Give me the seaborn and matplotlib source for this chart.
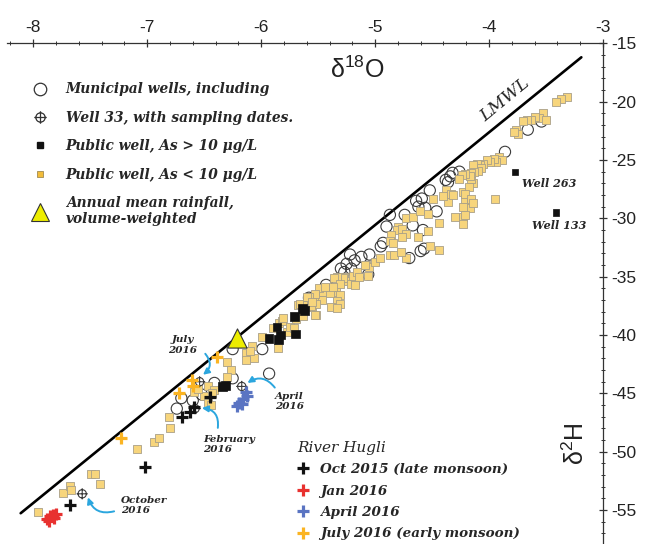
import numpy as np
import pandas as pd
import seaborn as sns
import matplotlib.pyplot as plt
from matplotlib.lines import Line2D
from matplotlib.path import Path
from matplotlib.ticker import MultipleLocator

sns.set_style('white')
plt.rcParams['font.family'] = ['Liberation Sans', 'DejaVu Sans']
plt.rcParams['axes.unicode_minus'] = False

# Municipal wells (open circles)
muni_x = [-6.70, -6.74, -6.52, -6.41, -6.25, -6.25, -5.99, -5.93, -6.60,
          -5.58, -5.43, -5.27, -5.18, -5.05, -5.06, -5.22, -5.12, -5.25, -5.30, -5.21, -5.33,
          -4.93, -4.95, -4.90, -4.87, -4.74, -4.67, -4.58, -4.57, -4.60, -4.70,
          -4.52, -4.59, -4.62, -4.56, -4.46, -4.64,
          -4.38, -4.32, -4.34, -4.26, -4.36,
          -3.86, -3.66, -3.54]
muni_y = [-45.4, -46.3, -45.1, -44.1, -43.7, -41.2, -41.2, -43.3, -45.6,
          -36.8, -35.7, -34.6, -33.6, -33.1, -34.8, -33.1, -33.3, -33.9, -34.3, -34.3, -35.3,
          -32.1, -32.4, -30.7, -29.7, -29.7, -30.6, -31.0, -32.6, -32.8, -33.4,
          -27.6, -28.3, -29.0, -29.1, -29.4, -28.5,
          -26.7, -26.1, -26.4, -26.0, -26.9,
          -24.3, -22.4, -21.7]

# Well 33 with sampling dates (Oct 2016, Jul 2016, Feb 2016, Apr 2016)
w33_x = [-7.57, -6.54, -6.58, -6.17]
w33_y = [-53.6, -44.0, -46.3, -44.4]

# Public wells, As > 10 ug/L
hi_x = [-6.34, -6.31, -5.93, -5.85, -5.83, -5.86, -5.70, -5.71, -5.64, -5.62, -3.77, -3.41]
hi_y = [-44.4, -44.3, -40.3, -40.4, -40.0, -39.3, -39.9, -38.4, -37.7, -37.9, -26.0, -29.5]
hi_size = [40, 40, 40, 40, 40, 40, 40, 40, 40, 40, 20, 20]

# Public wells, As < 10 ug/L
lo_x = [-7.96, -7.74, -7.68, -7.67, -7.49, -7.46, -7.41, -7.09, -6.94, -6.90, -6.81, -6.80,
        -6.59, -6.47, -6.41, -6.30, -6.26, -6.30, -6.43, -6.50, -6.55, -6.47, -6.44,
        -6.08, -6.13, -6.13, -6.06, -6.10, -5.99,
        -5.90, -5.84, -5.82, -5.77, -5.75, -5.81, -5.85, -5.71, -5.69, -5.63, -5.68, -5.66,
        -5.60, -5.52, -5.55, -5.59, -5.49, -5.46, -5.47, -5.49, -5.38, -5.36, -5.34, -5.31,
        -5.33, -5.40, -5.28, -5.27, -5.24, -5.21, -5.18, -5.19, -5.16, -5.14, -5.08, -5.05,
        -5.00, -5.28, -5.33, -5.36, -5.18, -5.31, -5.37, -5.44, -5.31, -5.39, -5.33, -5.53,
        -5.58, -5.52, -5.56, -5.53, -5.60, -5.55,
        -5.09, -5.06, -4.96, -4.87, -4.83, -4.73, -4.77, -4.73, -4.67, -4.61, -4.54, -4.80,
        -4.81, -4.76, -4.73, -4.76, -4.86, -4.87, -4.84, -4.62, -4.54, -4.52, -4.44,
        -4.38, -4.33, -4.36, -4.32, -4.23, -4.21, -4.16, -4.17, -4.30, -4.23, -4.23, -4.44,
        -4.49, -4.40, -3.95,
        -4.14, -4.16, -4.18, -4.21, -4.16, -4.14, -4.23, -4.21,
        -3.91, -3.89, -3.94, -3.96, -3.99, -4.02, -4.05, -4.08, -4.11, -4.07, -4.10, -4.14,
        -4.13, -4.16, -4.17, -4.21, -4.24, -4.26,
        -3.76, -3.75, -3.78, -3.53, -3.56, -3.60, -3.50, -3.63, -3.67, -3.70, -3.32, -3.37, -3.41]
lo_y = [-55.2, -53.5, -52.9, -53.3, -51.9, -51.9, -52.8, -49.8, -49.2, -48.8, -47.0, -48.0,
        -44.9, -44.4, -44.7, -42.3, -43.0, -43.6, -45.0, -45.2, -44.6, -45.8, -46.0,
        -40.9, -41.5, -42.1, -42.0, -41.4, -40.2,
        -39.4, -39.0, -38.8, -39.7, -39.3, -38.5, -41.1, -39.4, -38.6, -38.4, -37.4, -37.3,
        -37.4, -38.3, -37.6, -36.7, -36.7, -36.3, -37.0, -36.0, -36.0, -36.3, -35.9, -36.6,
        -37.1, -36.4, -35.3, -35.0, -35.4, -35.6, -35.3, -34.9, -34.6, -35.0, -34.0, -34.2,
        -33.7, -35.1, -35.0, -35.1, -35.7, -35.6, -35.9, -35.9, -37.3, -37.6, -37.7, -36.5,
        -36.7, -37.3, -37.5, -38.3, -36.7, -37.2,
        -34.0, -34.9, -33.4, -33.1, -33.1, -33.4, -32.9, -30.0, -29.9, -29.4, -29.6, -30.7,
        -31.0, -30.9, -31.3, -31.6, -31.4, -31.9, -32.1, -31.6, -31.1, -32.4, -32.7,
        -27.6, -27.9, -28.6, -28.0, -27.7, -28.3, -28.6, -29.1, -29.9, -29.9, -30.5, -30.4,
        -28.3, -28.1, -28.3,
        -27.0, -26.6, -27.3, -27.9, -28.3, -28.7, -29.0, -29.7,
        -24.7, -25.0, -25.2, -24.9, -25.2, -25.0, -25.3, -25.4, -25.3, -25.7, -25.9, -25.4,
        -26.0, -26.1, -26.4, -26.2, -26.3, -26.6,
        -22.4, -22.8, -22.6, -21.0, -21.4, -21.3, -21.6, -21.6, -21.6, -21.7, -19.6, -19.8, -20.0]

# Annual mean rainfall, volume-weighted
rain_x = [-6.21]
rain_y = [-40.25]

# River Hugli samples
oct15_x = [-7.68, -7.02, -6.69, -6.62, -6.585, -6.445]
oct15_y = [-54.6, -51.3, -47.0, -46.6, -46.2, -45.3]
jan16_x = [-7.88, -7.85, -7.82, -7.80, -7.86, -7.83]
jan16_y = [-55.8, -55.5, -55.7, -55.3, -55.9, -55.4]
apr16_x = [-6.13, -6.12, -6.16, -6.17, -6.21, -6.19]
apr16_y = [-44.9, -45.2, -45.5, -45.9, -46.1, -45.8]
jul16_x = [-7.23, -6.72, -6.61, -6.60, -6.39]
jul16_y = [-48.8, -45.0, -43.85, -44.4, -41.9]

# local meteoric water line
lmwl_slope, lmwl_int = 7.94, 9.13
lmwl_x = [-8.11, -3.19]

yellow = '#f7d57c'
yellow_edge = '#a9a088'
arrow_c = '#2ba6de'
river_cols = ['#111111', '#e8312f', '#5a74c2', '#fbb422']
serif_bi = dict(family='DejaVu Serif', style='italic', weight='bold')

# circle with cross marker for well 33
circ = Path.unit_circle()
cross_path = Path.make_compound_path(
    circ,
    Path([[-1.35, 0], [1.35, 0]], [Path.MOVETO, Path.LINETO]),
    Path([[0, -1.35], [0, 1.35]], [Path.MOVETO, Path.LINETO]))

fig = plt.figure(figsize=(6.5, 5.44), dpi=100)
ax = fig.add_axes([7 / 650, 0, 596 / 650, 500.7 / 544])

lx = np.array(lmwl_x)
ax.plot(lx, lmwl_slope * lx + lmwl_int, color='black', lw=1.9, zorder=1)

sns.scatterplot(x=muni_x, y=muni_y, ax=ax, marker='o', s=65, facecolor='none',
                edgecolor='#3a3a3a', linewidth=0.8, zorder=2)
sns.scatterplot(x=lo_x, y=lo_y, ax=ax, marker='s', s=32, color=yellow,
                edgecolor=yellow_edge, linewidth=0.6, zorder=3)
sns.scatterplot(x=hi_x, y=hi_y, ax=ax, marker='s', size=hi_size, sizes=(20, 40),
                color='#111111', edgecolor='#111111', linewidth=0.5, zorder=4, legend=False)
sns.scatterplot(x=w33_x, y=w33_y, ax=ax, marker=cross_path, s=65, facecolor='none',
                edgecolor='#3a3a3a', linewidth=0.8, zorder=5)
for (xs, ys), c in zip([(oct15_x, oct15_y), (jan16_x, jan16_y), (apr16_x, apr16_y),
                        (jul16_x, jul16_y)], river_cols):
    sns.scatterplot(x=xs, y=ys, ax=ax, marker='+', s=70, color=c, linewidth=2.3, zorder=6)
sns.scatterplot(x=rain_x, y=rain_y, ax=ax, marker='^', s=190, color='#eded00',
                edgecolor='#333333', linewidth=0.8, zorder=7)

ax.set_xlim(-8.23, -3.0)
ax.set_ylim(-57.9, -15)
for s in ['left', 'bottom']:
    ax.spines[s].set_visible(False)
for s in ['top', 'right']:
    ax.spines[s].set_color('#333333')
    ax.spines[s].set_linewidth(0.9)
ax.xaxis.tick_top()
ax.yaxis.tick_right()
ax.xaxis.set_major_locator(MultipleLocator(1))
ax.xaxis.set_minor_locator(MultipleLocator(0.2))
ax.yaxis.set_major_locator(MultipleLocator(5))
ax.yaxis.set_minor_locator(MultipleLocator(1))
ax.tick_params(which='major', direction='inout', length=6, width=0.9, color='#333333',
               labelsize=12.5, labelcolor='#222222')
ax.tick_params(which='minor', direction='inout', length=3, width=0.7, color='#333333')
ax.tick_params(axis='x', pad=3)
ax.tick_params(axis='y', pad=3)

ax.text(0.587, 0.947, 'δ$^{\\mathregular{18}}$O', transform=ax.transAxes, fontsize=18,
        ha='center', va='center', color='#222222')
ax.text(0.955, 0.2, 'δ$^{\\mathregular{2}}$H', transform=ax.transAxes, fontsize=18,
        ha='center', va='center', rotation=90, color='#222222')
ax.text(-3.86, -19.86, 'LMWL', fontsize=12.5, family='DejaVu Serif', style='italic',
        rotation=39.5, ha='center', va='center', rotation_mode='anchor')

# point annotations
ax.text(-3.71, -27.0, 'Well 263', fontsize=8, va='center', **serif_bi)
ax.text(-3.62, -30.6, 'Well 133', fontsize=8, va='center', **serif_bi)
ax.text(-6.69, -40.85, 'July\n2016', fontsize=7.5, ha='center', va='center',
        linespacing=1.15, **serif_bi)
ax.text(-5.88, -45.7, 'April\n2016', fontsize=7.5, ha='left', va='center',
        linespacing=1.15, **serif_bi)
ax.text(-6.51, -49.4, 'February\n2016', fontsize=7.5, ha='left', va='center',
        linespacing=1.15, **serif_bi)
ax.text(-7.23, -54.6, 'October\n2016', fontsize=7.5, ha='left', va='center',
        linespacing=1.15, **serif_bi)
arrows = [((-6.49, -41.6), (-6.51, -43.4), -0.5),
          ((-5.88, -44.5), (-6.12, -44.1), 0.45),
          ((-6.38, -47.95), (-6.52, -46.25), 0.5),
          ((-7.29, -55.1), (-7.52, -53.9), -0.45)]
for tail, head, rad in arrows:
    ax.annotate('', xy=head, xytext=tail,
                arrowprops=dict(arrowstyle='-|>', color=arrow_c, lw=1.4, shrinkA=0,
                                shrinkB=0, mutation_scale=9,
                                connectionstyle=f'arc3,rad={rad}'))

# legends
h1 = [Line2D([], [], ls='', marker='o', ms=9, mfc='none', mec='#333333', mew=0.9),
      Line2D([], [], ls='', marker=cross_path, ms=9, mfc='none', mec='#333333', mew=0.9),
      Line2D([], [], ls='', marker='s', ms=5, mfc='#111111', mec='#111111'),
      Line2D([], [], ls='', marker='s', ms=5, mfc='#f2bc3a', mec='#a08a50', mew=0.6),
      Line2D([], [], ls='', marker='^', ms=13, mfc='#eded00', mec='#333333', mew=0.8)]
l1 = ['Municipal wells, including', 'Well 33, with sampling dates.',
      'Public well, As > 10 μg/L', 'Public well, As < 10 μg/L',
      'Annual mean rainfall,\nvolume-weighted']
leg1 = ax.legend(h1, l1, loc='upper left', bbox_to_anchor=(0.042, 0.922), frameon=False,
                 prop=dict(size=9.9, **serif_bi), handlelength=1.2, handletextpad=1.25,
                 labelspacing=1.05, borderaxespad=0, borderpad=0)
ax.add_artist(leg1)

h2 = [Line2D([], [], ls='', marker='+', ms=8, mec=c, mew=2.3) for c in river_cols]
l2 = ['Oct 2015 (late monsoon)', 'Jan 2016', 'April 2016', 'July 2016 (early monsoon)']
leg2 = ax.legend(h2, l2, loc='upper left', bbox_to_anchor=(0.487, 0.206), frameon=False,
                 prop=dict(size=9.7, **serif_bi), handlelength=0.9, handletextpad=0.8,
                 labelspacing=0.62, borderaxespad=0, borderpad=0,
                 title='River Hugli', alignment='left',
                 title_fontproperties=dict(size=11, family='DejaVu Serif', style='italic'))

fig.savefig('out.png', dpi=100)
